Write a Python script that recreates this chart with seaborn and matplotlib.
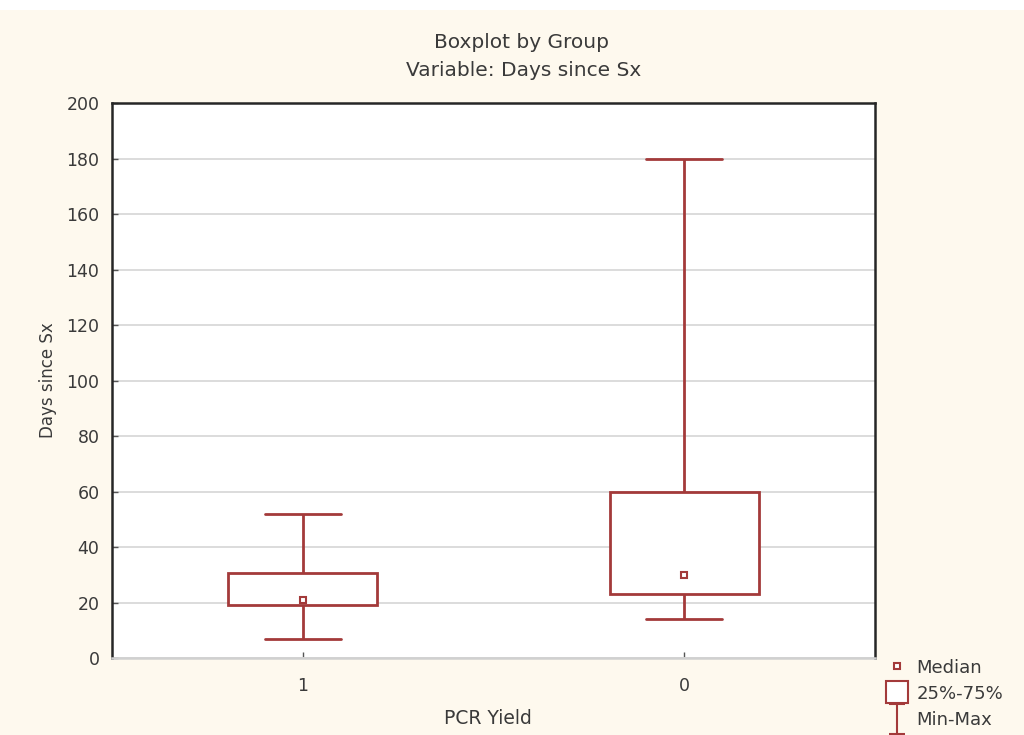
import numpy as np
import pandas as pd
import matplotlib
matplotlib.use("Agg")
import matplotlib.pyplot as plt
import seaborn as sns
from matplotlib.lines import Line2D
from matplotlib.path import Path
from matplotlib.patches import Rectangle

# Summary values: min, Q1, median, Q3, max
groups = ["1", "0"]
stats_1 = [7, 19, 21, 30.5, 52]
stats_0 = [14, 23, 30, 60, 180]

ytick_vals = list(range(0, 201, 20))

RED = "#a33a3a"
BG = "#fef9ee"
TXT = "#3a3a3a"

# five points per group: quartiles of these five are exactly Q1/median/Q3
df = pd.DataFrame({
    "PCR Yield": [groups[0]] * 5 + [groups[1]] * 5,
    "Days since Sx": stats_1 + stats_0,
})

sns.set_style("white")
plt.rcParams["font.family"] = ["DejaVu Sans"]

fig = plt.figure(figsize=(10.24, 7.35), dpi=100, facecolor=BG)
ax = fig.add_axes([112 / 1024, 1 - 658 / 735, 763 / 1024, 555 / 735])
ax.set_facecolor("white")

# white strip along the top of the image
fig.patches.append(Rectangle((0, 1 - 10 / 735), 1, 10 / 735, transform=fig.transFigure,
                             facecolor="white", edgecolor="none", zorder=-1))

sns.boxplot(data=df, x="PCR Yield", y="Days since Sx", order=groups, ax=ax,
            whis=(0, 100), showfliers=False, width=0.39,
            boxprops=dict(facecolor="white", edgecolor=RED, linewidth=2),
            whiskerprops=dict(color=RED, linewidth=2),
            capprops=dict(color=RED, linewidth=2),
            medianprops=dict(visible=False),
            zorder=3)

# shorten caps to about half the box width
for line in ax.lines:
    xd = np.asarray(line.get_xdata(), dtype=float)
    if len(xd) == 2 and xd[0] != xd[1]:
        c = xd.mean()
        line.set_xdata([c - 0.1, c + 0.1])

sns.pointplot(data=df, x="PCR Yield", y="Days since Sx", order=groups, ax=ax,
              estimator="median", errorbar=None, linestyle="none",
              marker="s", markersize=5, markerfacecolor="white",
              markeredgecolor=RED, markeredgewidth=1.5, color=RED, zorder=4)

ax.set_xlim(-0.5, 1.5)
ax.set_ylim(0, 200)
ax.set_yticks(ytick_vals)
ax.yaxis.grid(True, color="#d6d6d6", linewidth=1.2)
ax.set_axisbelow(True)
for s in ax.spines.values():
    s.set_color("#262626")
    s.set_linewidth(1.8)
ax.spines["bottom"].set_color("#d0d0d0")
ax.tick_params(axis="both", labelsize=12.5, labelcolor=TXT, color="#555555",
               length=4, width=1, direction="in", left=True, bottom=True)
ax.tick_params(axis="y", pad=9)
ax.tick_params(axis="x", pad=14)
ax.set_xlabel("PCR Yield", fontsize=13.5, color=TXT)
ax.xaxis.set_label_coords((488 - 112) / 763, -(718 - 658) / 555)
ax.xaxis.label.set_va("center")
ax.set_ylabel("Days since Sx", fontsize=12, color=TXT)
ax.yaxis.set_label_coords(-(112 - 48) / 763, 0.5)
ax.yaxis.label.set_va("center")

fig.text(522 / 1024, 1 - 43 / 735, "Boxplot by Group", ha="center", va="center",
         fontsize=14.5, color=TXT)
fig.text(524 / 1024, 1 - 70 / 735, "Variable: Days since Sx", ha="center", va="center",
         fontsize=14.5, color=TXT)

# legend with an I-beam glyph for the min-max whiskers
ibeam = Path([(-0.5, 1), (0.5, 1), (0, 1), (0, -1), (-0.5, -1), (0.5, -1)],
             [Path.MOVETO, Path.LINETO, Path.MOVETO, Path.LINETO, Path.MOVETO, Path.LINETO])
handles = [
    Line2D([], [], linestyle="none", marker="s", markersize=5, markerfacecolor="white",
           markeredgecolor=RED, markeredgewidth=1.5),
    Line2D([], [], linestyle="none", marker="s", markersize=16, markerfacecolor="white",
           markeredgecolor=RED, markeredgewidth=1.5),
    Line2D([], [], linestyle="none", marker=ibeam, markersize=22, markerfacecolor="none",
           markeredgecolor=RED, markeredgewidth=1.5),
]
fig.legend(handles, ["Median", "25%-75%", "Min-Max"], loc="upper left",
           bbox_to_anchor=(874 / 1024, 1 - 646 / 735), frameon=False, fontsize=13,
           handlelength=1.2, handletextpad=0.45, labelspacing=0.45, borderpad=0.2,
           labelcolor=TXT)

fig.savefig("out.png", dpi=100, facecolor=BG)
